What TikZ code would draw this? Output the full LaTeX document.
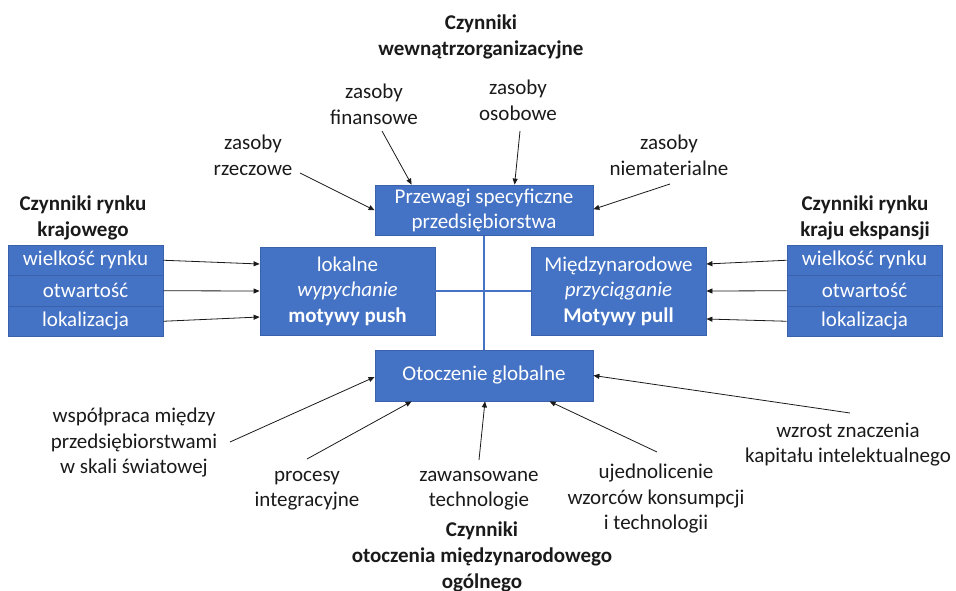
\documentclass[tikz,border=0pt]{standalone}
\usepackage{fontspec}
\setmainfont{Carlito}
\usetikzlibrary{arrows.meta,calc}
\definecolor{boxblue}{HTML}{4472C4}
\definecolor{boxedge}{HTML}{3A62AC}
\definecolor{ink}{HTML}{1A1A1A}
\begin{document}
\begin{tikzpicture}[x=1pt,y=-1pt,
  font=\fontsize{21}{25.5}\selectfont,
  box/.style={draw=boxedge, line width=0.8pt, fill=boxblue, text=white,
    align=center, inner sep=0pt},
  rowbox/.style={box, minimum width=155pt, minimum height=30.5pt},
  lbl/.style={align=center, inner sep=2pt, text=ink},
  ttl/.style={lbl, font=\fontsize{21}{26}\selectfont\bfseries},
  arr/.style={-{Triangle[length=6pt,width=5pt]}, line width=0.8pt, ink},
  link/.style={boxblue, line width=2.5pt}]
\useasboundingbox (0,0) rectangle (956,591);

% central boxes
\node[box, minimum width=218pt, minimum height=50.5pt] (pw) at (484,210.25)
  {Przewagi specyficzne\\przedsiębiorstwa};
\node[box, minimum width=175pt, minimum height=88pt] (lok) at (347.5,291)
  {lokalne\\\textit{wypychanie}\\\textbf{motywy push}};
\node[box, minimum width=175pt, minimum height=88pt] (mz) at (618.5,291)
  {Międzynarodowe\\\textit{przyciąganie}\\\textbf{Motywy pull}};
\node[box, minimum width=218pt, minimum height=51pt] (ot) at (484,375.5)
  {Otoczenie globalne};

% links between the central boxes
\draw[link] (pw.south) -- (ot.north);
\draw[link] (lok.east) -- (mz.west);

% home market factors
\node[rowbox] (l1) at (85.5,260.25) {wielkość rynku};
\node[rowbox] (l2) at (85.5,290.75) {otwartość};
\node[rowbox] (l3) at (85.5,321.25) {lokalizacja};
% host market factors
\node[rowbox] (r1) at (864.5,260.25) {wielkość rynku};
\node[rowbox] (r2) at (864.5,290.75) {otwartość};
\node[rowbox] (r3) at (864.5,321.25) {lokalizacja};

% headings
\node[ttl] (tin) at (481,36.5) {Czynniki\\wewnątrzorganizacyjne};
\node[ttl] (tkr) at (83,218) {Czynniki rynku\\krajowego};
\node[ttl] (tke) at (865,218) {Czynniki rynku\\kraju ekspansji};
\node[ttl] (tot) at (482,557) {Czynniki\\otoczenia międzynarodowego\\ogólnego};

% labels
\node[lbl] (fin) at (374,104.5) {zasoby\\finansowe};
\node[lbl] (oso) at (518,100.5) {zasoby\\osobowe};
\node[lbl] (rz) at (253,155.5) {zasoby\\rzeczowe};
\node[lbl] (niem) at (669,155.5) {zasoby\\niematerialne};
\node[lbl] (wsp) at (134,443) {współpraca między\\przedsiębiorstwami\\w skali światowej};
\node[lbl] (proc) at (307,490.5) {procesy\\integracyjne};
\node[lbl] (zaw) at (479,490.5) {zawansowane\\technologie};
\node[lbl] (uje) at (656,499) {ujednolicenie\\wzorców konsumpcji\\i technologii};
\node[lbl] (wzr) at (848,444.5) {wzrost znaczenia\\kapitału intelektualnego};

% arrows into the firm's advantages
\draw[arr] ($(rz)+(47,17.5)$) -- (pw.west);
\draw[arr] ($(fin)+(8,26.5)$) -- ($(pw.north west)+(37,0)$);
\draw[arr] ($(oso)+(2,30.5)$) -- ($(pw.north west)+(140,0)$);
\draw[arr] ($(niem)+(1,28.5)$) -- ($(pw.east)+(0,-1)$);

% arrows from the market factors
\draw[arr] (l1.east) -- ($(lok.west)+(0,-27)$);
\draw[arr] (l2.east) -- (lok.west);
\draw[arr] (l3.east) -- ($(lok.west)+(0,26)$);
\draw[arr] (r1.west) -- ($(mz.east)+(0,-27)$);
\draw[arr] (r2.west) -- (mz.east);
\draw[arr] (r3.west) -- ($(mz.east)+(0,28)$);

% arrows into the global environment
\draw[arr] ($(wsp)+(96,-1)$) -- ($(ot.west)+(0,1.5)$);
\draw[arr] ($(proc)+(0,-31.5)$) -- ($(ot.south west)+(37,0)$);
\draw[arr] ($(zaw)+(0,-30.5)$) -- ($(ot.south)+(1,0)$);
\draw[arr] ($(uje)+(1,-47)$) -- ($(ot.south west)+(175,0)$);
\draw[arr] ($(wzr)+(2,-31.5)$) -- (ot.east);
\end{tikzpicture}
\end{document}
